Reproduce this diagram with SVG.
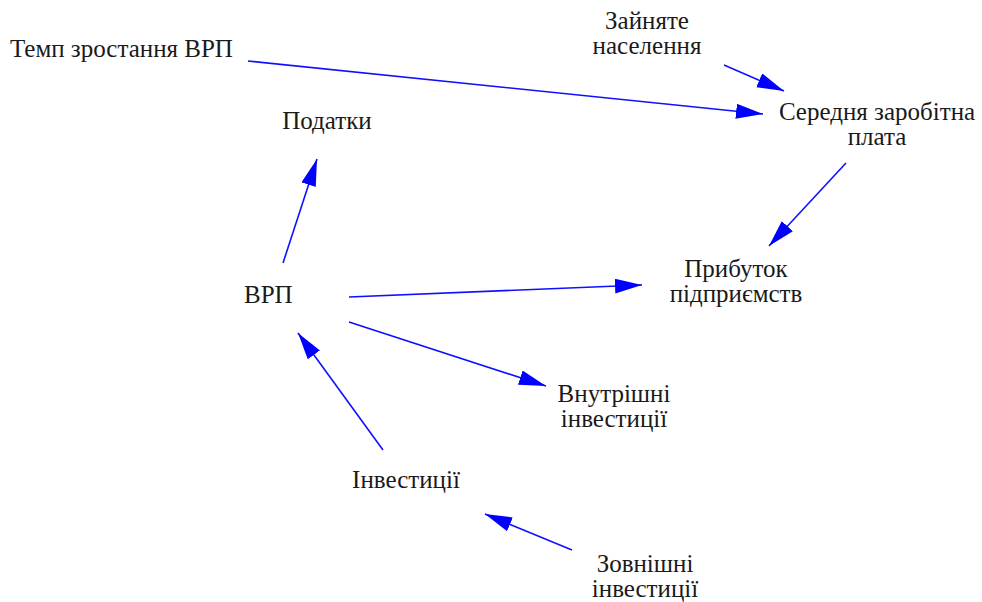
<svg xmlns="http://www.w3.org/2000/svg" width="982" height="602" viewBox="0 0 982 602">
  <style>
    .lbl { font-family: 'Liberation Serif', serif; font-size: 25px; fill: #1a1a1a; }
    .mid { text-anchor: middle; }
    .edge { stroke: #1010ff; stroke-width: 1.6; fill: none; marker-end: url(#head); }
  </style>
  <defs>
    <marker id="head" markerUnits="userSpaceOnUse" markerWidth="28" markerHeight="16" refX="27" refY="7.5" orient="auto">
      <path d="M0,0 L27,7.5 L0,15 z" fill="#0000ff"/>
    </marker>
  </defs>
  <rect width="982" height="602" fill="#ffffff"/>

  <g id="connectors">
    <line class="edge" x1="248" y1="61" x2="763" y2="114"/>
    <line class="edge" x1="724" y1="65" x2="784" y2="91"/>
    <line class="edge" x1="846" y1="163" x2="769" y2="246"/>
    <line class="edge" x1="283" y1="263" x2="317" y2="159"/>
    <line class="edge" x1="349" y1="297" x2="642" y2="285"/>
    <line class="edge" x1="349" y1="322" x2="546" y2="386"/>
    <line class="edge" x1="383" y1="450" x2="298" y2="333"/>
    <line class="edge" x1="572" y1="550" x2="485" y2="514"/>
  </g>

  <g id="temp-vrp"><text class="lbl" x="10" y="57">Темп зростання ВРП</text></g>
  <g id="zainiate">
    <text class="lbl mid" x="647" y="29">Зайняте</text>
    <text class="lbl mid" x="647" y="54">населення</text>
  </g>
  <g id="zarplata">
    <text class="lbl mid" x="877" y="120">Середня заробітна</text>
    <text class="lbl mid" x="877" y="145">плата</text>
  </g>
  <g id="podatky"><text class="lbl mid" x="327" y="129">Податки</text></g>
  <g id="prybutok">
    <text class="lbl mid" x="736" y="277">Прибуток</text>
    <text class="lbl mid" x="736" y="302">підприємств</text>
  </g>
  <g id="vrp"><text class="lbl" x="244" y="303">ВРП</text></g>
  <g id="vnutr">
    <text class="lbl mid" x="614" y="402">Внутрішні</text>
    <text class="lbl mid" x="614" y="427">інвестиції</text>
  </g>
  <g id="investytsii"><text class="lbl mid" x="406" y="488">Інвестиції</text></g>
  <g id="zovn">
    <text class="lbl mid" x="645" y="572">Зовнішні</text>
    <text class="lbl mid" x="645" y="597">інвестиції</text>
  </g>
</svg>
